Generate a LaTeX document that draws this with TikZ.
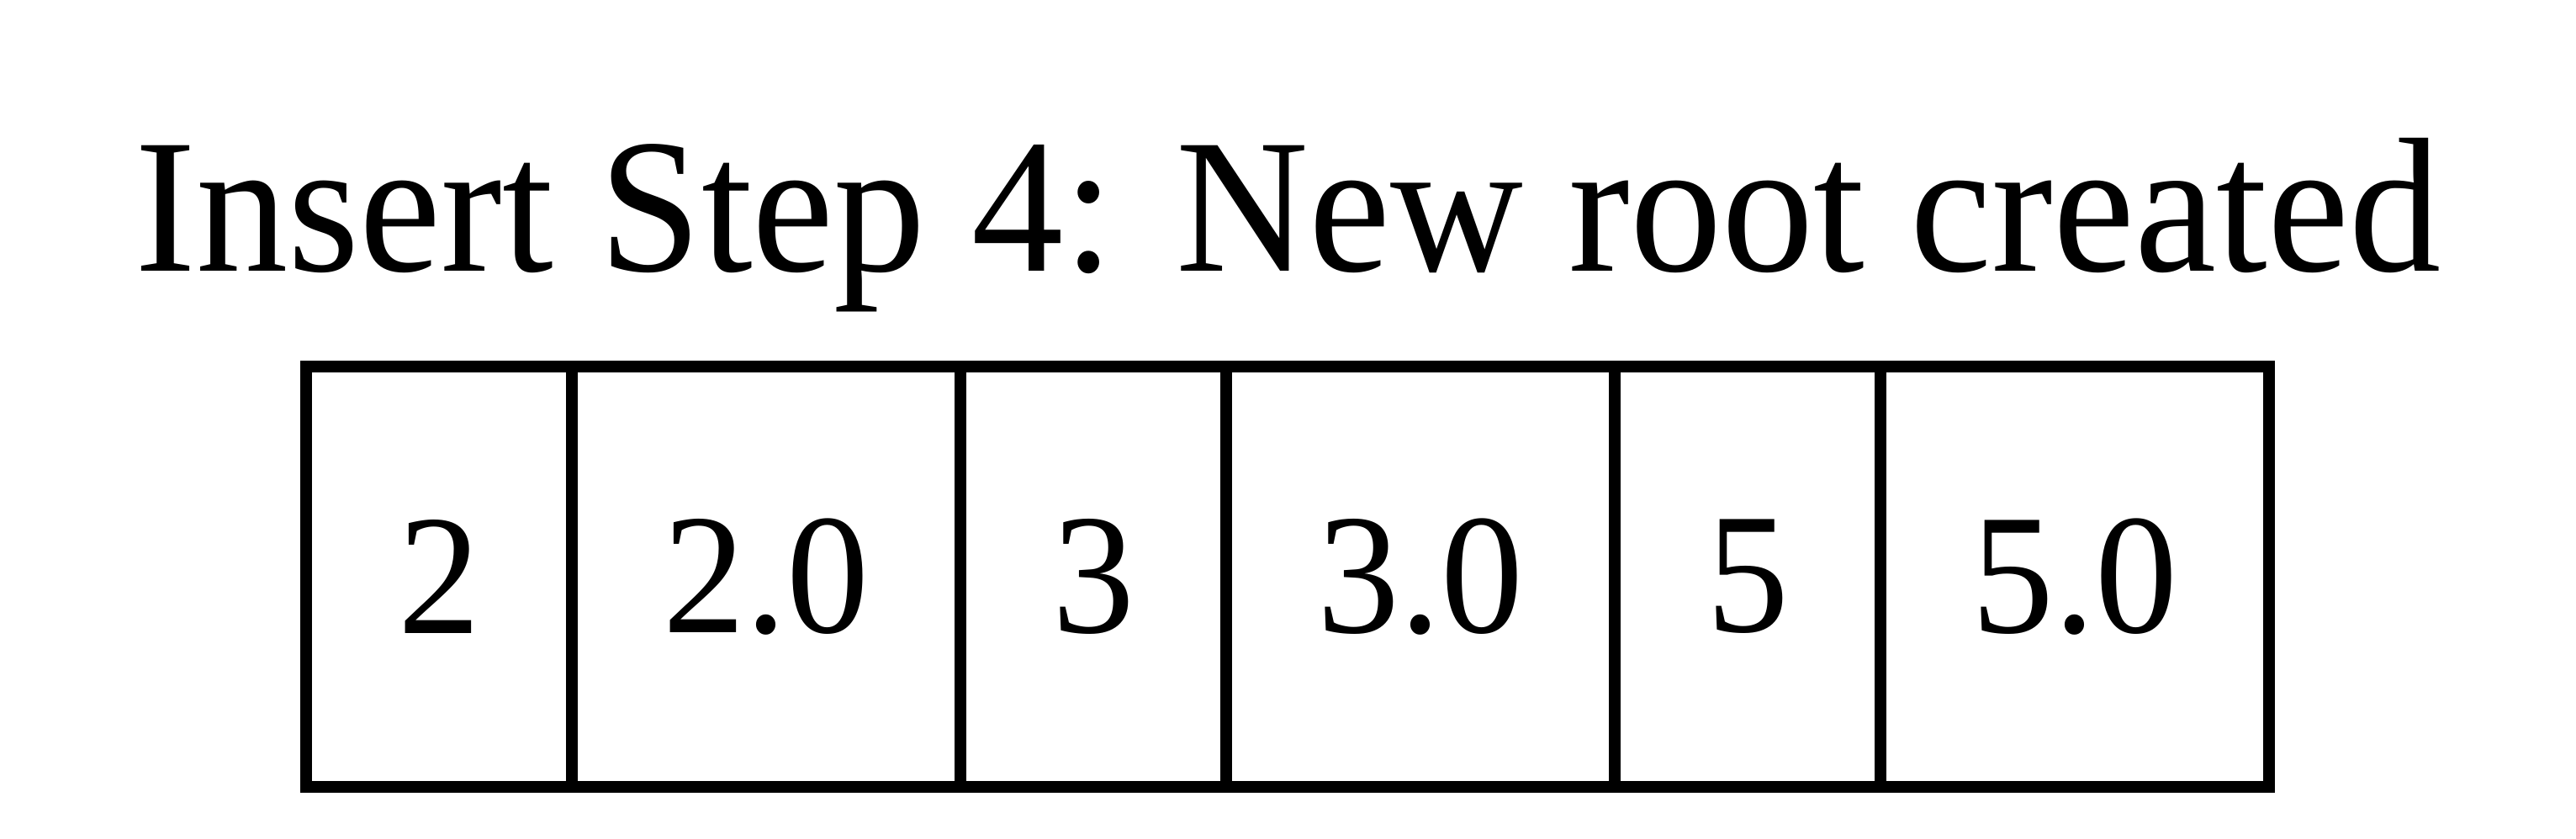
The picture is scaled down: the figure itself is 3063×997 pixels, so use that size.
\documentclass[tikz,border=0pt]{standalone}
\usepackage{fontspec}
\setmainfont{Liberation Serif}
\newcommand{\cellnum}[1]{\scalebox{0.96}[1]{#1}}
\begin{document}
\begin{tikzpicture}[x=0.25pt,y=-0.25pt,
  cell/.style={draw=black, line width=3.5pt, rectangle, inner sep=0pt, outer sep=0pt,
    minimum height=125pt, font=\fontsize{51}{58}\selectfont},
  narrowcell/.style={cell, minimum width=79pt},
  widecell/.style={cell, minimum width=115.5pt},
  titletext/.style={anchor=base, inner sep=0pt, font=\fontsize{57}{62}\selectfont}]
\useasboundingbox (0,0) rectangle (3063,997);
\node[titletext] (title) at (1531.5,322) {\scalebox{0.958}[1]{Insert Step 4: New root created}};
\node[narrowcell] (c1) at (522,686) {\cellnum{2}};
\node[widecell]   (c2) at (911,686) {\cellnum{2.0}};
\node[narrowcell] (c3) at (1300,686) {\cellnum{3}};
\node[widecell]   (c4) at (1689,686) {\cellnum{3.0}};
\node[narrowcell] (c5) at (2078,686) {\cellnum{5}};
\node[widecell]   (c6) at (2467,686) {\cellnum{5.0}};
\end{tikzpicture}
\end{document}
